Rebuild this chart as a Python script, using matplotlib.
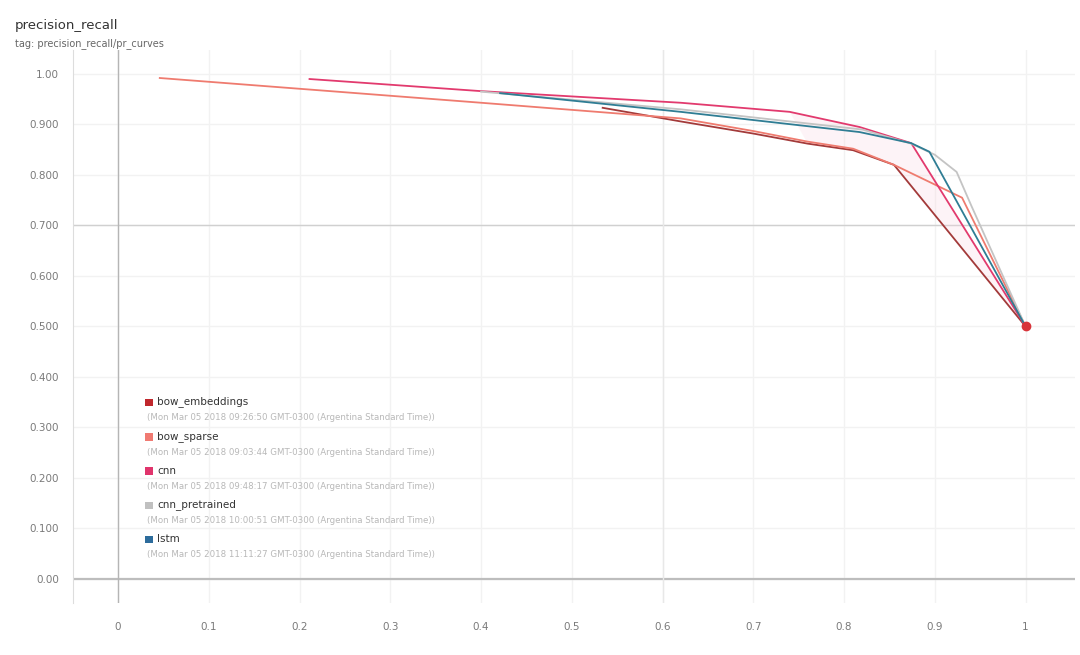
import matplotlib.pyplot as plt
import numpy as np

# kolejne krzywe PR (recall, precision)
bow_emb_r = [0.534, 0.62, 0.70, 0.76, 0.81, 0.855, 1.0]
bow_emb_p = [0.933, 0.906, 0.882, 0.862, 0.849, 0.820, 0.500]

bow_sparse_r = [0.046, 0.40, 0.62, 0.70, 0.76, 0.81, 0.855, 0.93, 1.0]
bow_sparse_p = [0.992, 0.943, 0.912, 0.887, 0.866, 0.852, 0.820, 0.755, 0.500]

cnn_r = [0.211, 0.40, 0.62, 0.74, 0.817, 0.874, 1.0]
cnn_p = [0.990, 0.966, 0.943, 0.925, 0.895, 0.863, 0.500]

cnn_pre_r = [0.40, 0.62, 0.82, 0.874, 0.90, 0.924, 0.94, 1.0]
cnn_pre_p = [0.965, 0.930, 0.890, 0.862, 0.840, 0.806, 0.740, 0.500]

lstm_r = [0.421, 0.62, 0.817, 0.874, 0.894, 1.0]
lstm_p = [0.962, 0.925, 0.885, 0.863, 0.846, 0.500]

names = ['bow_embeddings', 'bow_sparse', 'cnn', 'cnn_pretrained', 'lstm']
times = ['09:26:50', '09:03:44', '09:48:17', '10:00:51', '11:11:27']
line_colors = ['#a33a3a', '#ef7b6f', '#e23a6e', '#c4c4c4', '#2f7d94']
box_colors = ['#c0282d', '#f07a72', '#e0346c', '#c0c0c0', '#2d6c9c']

yticks = [0.0, 0.1, 0.2, 0.3, 0.4, 0.5, 0.6, 0.7, 0.8, 0.9, 1.0]
ytick_labels = ['0.00', '0.100', '0.200', '0.300', '0.400', '0.500',
                '0.600', '0.700', '0.800', '0.900', '1.00']
xticks = [0, 0.1, 0.2, 0.3, 0.4, 0.5, 0.6, 0.7, 0.8, 0.9, 1.0]
xtick_labels = ['0', '0.1', '0.2', '0.3', '0.4', '0.5', '0.6', '0.7', '0.8', '0.9', '1']

fig = plt.figure(figsize=(10.8, 6.55), dpi=100)
ax = fig.add_axes([0.0676, 0.0794, 0.9274, 0.8443])

ax.set_xlim(-0.0496, 1.054)
ax.set_ylim(-0.0475, 1.0475)

# siatka i linie pomocnicze
for x in xticks:
    ax.axvline(x, color='#f2f2f2', lw=1, zorder=0)
for y in yticks:
    ax.axhline(y, color='#f2f2f2', lw=1, zorder=0)
ax.axhline(0.0, color='#bdbdbd', lw=1.6, zorder=1)
ax.axhline(0.7, color='#d0d0d0', lw=1, zorder=1)
ax.axvline(0.0, color='#b5b5b5', lw=1, zorder=1)
ax.axvline(0.6, color='#e8e8e8', lw=1, zorder=1)

# delikatne zaciemnienie miedzy cnn i bow_embeddings
fill_x = np.concatenate([cnn_r[3:], bow_emb_r[::-1][1:4]])
fill_y = np.concatenate([cnn_p[3:], bow_emb_p[::-1][1:4]])
ax.fill(fill_x, fill_y, color='#fbd3e0', alpha=0.25, lw=0, zorder=1)

series = [(bow_emb_r, bow_emb_p), (bow_sparse_r, bow_sparse_p), (cnn_r, cnn_p),
          (cnn_pre_r, cnn_pre_p), (lstm_r, lstm_p)]
order = [3, 1, 4, 0, 2]
for i in order:
    r, p = series[i]
    ax.plot(r, p, color=line_colors[i], lw=1.3, zorder=3 + i * 0.1)

ax.plot([bow_emb_r[-1]], [bow_emb_p[-1]], 'o', color='#d8343a', ms=6, zorder=5)

ax.set_xticks(xticks)
ax.set_xticklabels(xtick_labels)
ax.set_yticks(yticks)
ax.set_yticklabels(ytick_labels)
ax.tick_params(length=0, colors='#7a7a7a', labelsize=7.5)
ax.tick_params(axis='x', pad=14)
ax.tick_params(axis='y', pad=10)
for s in ['top', 'right', 'bottom']:
    ax.spines[s].set_visible(False)
ax.spines['left'].set_color('#dddddd')

fig.text(0.014, 0.956, 'precision_recall', fontsize=9.5, color='#333333')
fig.text(0.014, 0.929, 'tag: precision_recall/pr_curves', fontsize=7, color='#666666')

# legenda
for k in range(5):
    ytop = 1 - (402 + k * 34.3) / 655
    fig.patches.append(plt.Rectangle((145 / 1080, ytop - 0.0065), 7.5 / 1080, 7.5 / 655,
                                     transform=fig.transFigure, color=box_colors[k], lw=0))
    fig.text(157 / 1080, ytop, names[k], fontsize=7.5, color='#333333', va='center')
    fig.text(147 / 1080, ytop - 0.024,
             '(Mon Mar 05 2018 ' + times[k] + ' GMT-0300 (Argentina Standard Time))',
             fontsize=6.2, color='#b8b8b8', va='center')

plt.savefig('out.png', dpi=100)
